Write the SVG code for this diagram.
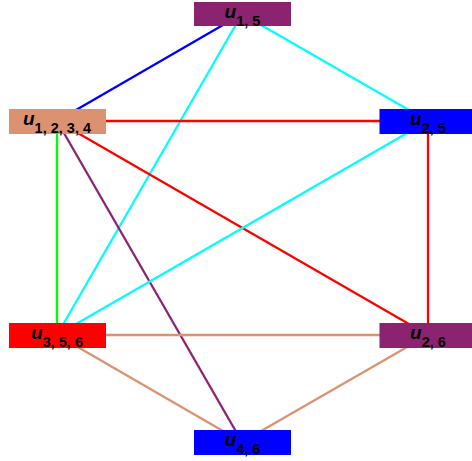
<svg xmlns="http://www.w3.org/2000/svg" width="472" height="461" viewBox="0 0 472 461">
<style>
.e{stroke-width:2.3;fill:none}
.t{font-family:"Liberation Sans",Arial,sans-serif;font-weight:bold;fill:#000;text-anchor:middle}
.u{font-style:italic;font-size:19px}
.s{font-size:14.5px}
</style>
<rect width="472" height="461" fill="#fff"/>
<g id="edges">
<line class="e" x1="242" y1="14" x2="57" y2="121" stroke="#0000ff"/>
<line class="e" x1="242" y1="14" x2="428" y2="121" stroke="#00ffff"/>
<line class="e" x1="242" y1="14" x2="57" y2="335" stroke="#00ffff"/>
<line class="e" x1="57" y1="121" x2="428" y2="121" stroke="#ff0000"/>
<line class="e" x1="57" y1="121" x2="428" y2="335" stroke="#ff0000"/>
<line class="e" x1="57" y1="121" x2="57" y2="335" stroke="#00ff00"/>
<line class="e" x1="57" y1="121" x2="242" y2="442" stroke="#8b2371"/>
<line class="e" x1="428" y1="121" x2="428" y2="335" stroke="#ff0000"/>
<line class="e" x1="428" y1="121" x2="57" y2="335" stroke="#00ffff"/>
<line class="e" x1="57" y1="335" x2="428" y2="335" stroke="#db9270"/>
<line class="e" x1="57" y1="335" x2="242" y2="442" stroke="#db9270"/>
<line class="e" x1="428" y1="335" x2="242" y2="442" stroke="#db9270"/>
</g>
<g id="n15">
<rect x="194" y="2" width="97" height="24" fill="#8b2371"/>
<text class="t" x="242.5" y="18"><tspan class="u">u</tspan><tspan class="s" dy="8">1, 5</tspan></text>
</g>
<g id="n1234">
<rect x="9" y="109" width="97" height="25" fill="#db9270"/>
<text class="t" x="57" y="124.5"><tspan class="u">u</tspan><tspan class="s" dy="8.5">1, 2, 3, 4</tspan></text>
</g>
<g id="n25">
<rect x="379.5" y="109" width="97" height="25" fill="#0000ff"/>
<text class="t" x="428" y="124.5"><tspan class="u">u</tspan><tspan class="s" dy="8.5">2, 5</tspan></text>
</g>
<g id="n356">
<rect x="9" y="323" width="97" height="25" fill="#ff0000"/>
<text class="t" x="57" y="338.5"><tspan class="u">u</tspan><tspan class="s" dy="8.5">3, 5, 6</tspan></text>
</g>
<g id="n26">
<rect x="379.5" y="323" width="97" height="25" fill="#8b2371"/>
<text class="t" x="428" y="338.5"><tspan class="u">u</tspan><tspan class="s" dy="8.5">2, 6</tspan></text>
</g>
<g id="n46">
<rect x="194" y="430" width="97" height="25" fill="#0000ff"/>
<text class="t" x="242.5" y="445.5"><tspan class="u">u</tspan><tspan class="s" dy="8.5">4, 6</tspan></text>
</g>
</svg>
